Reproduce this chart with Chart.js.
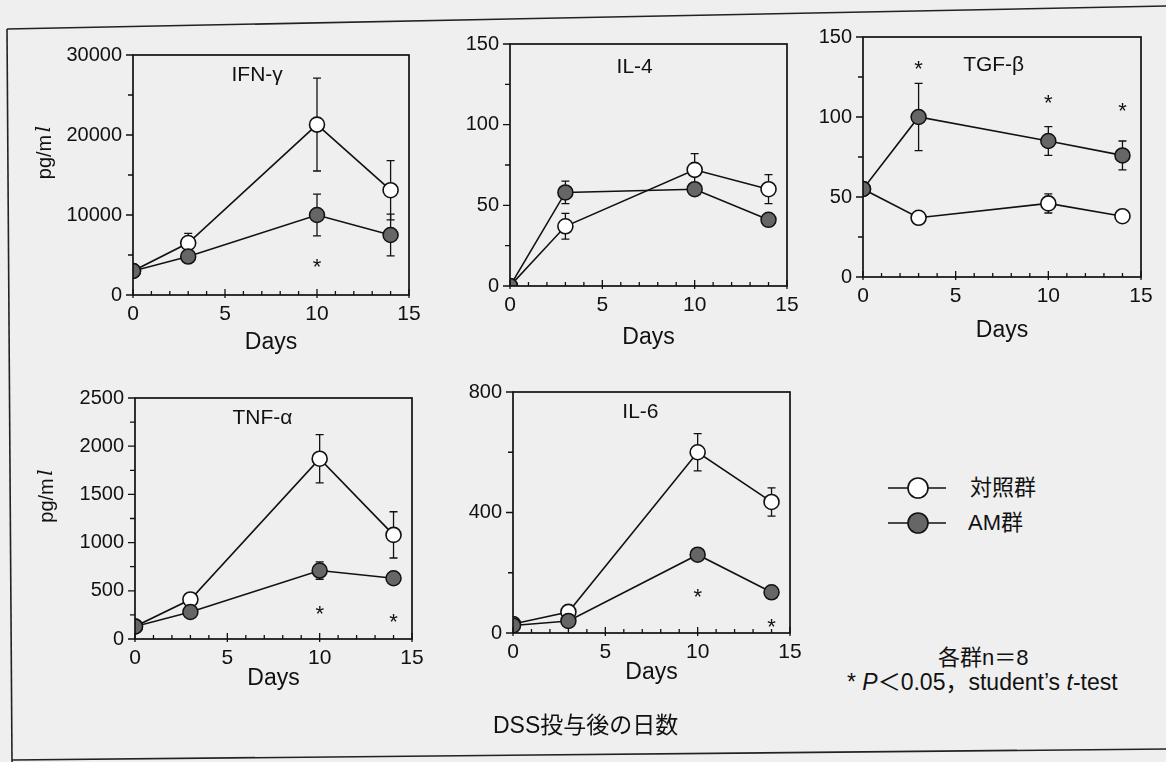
<!DOCTYPE html>
<html>
<head>
<meta charset="utf-8">
<script src="https://cdn.jsdelivr.net/npm/chart.js@4.4.1/dist/chart.umd.min.js"></script>
<style>
  body { margin: 0; background: #efefef; font-family: "Liberation Sans", Arial, sans-serif; color: #111; }
  #page { position: relative; width: 1166px; height: 762px; overflow: hidden; }
  .panel { position: absolute; }
  .txt { position: absolute; white-space: nowrap; font-size: 22px; line-height: 26px; }
  .jp { font-family: "Liberation Sans", "Noto Sans CJK JP", sans-serif; }
  #frame { position: absolute; left: 0; top: 0; }
</style>
</head>
<body>
<div id="page">
  <svg id="frame" width="1166" height="762">
    <line x1="7" y1="29" x2="1166" y2="6" stroke="#222" stroke-width="1.6"/>
    <line x1="7" y1="29" x2="12" y2="762" stroke="#222" stroke-width="1.6"/>
    <line x1="12" y1="760" x2="1166" y2="749" stroke="#222" stroke-width="1.6"/>
    <!-- legend symbols -->
    <line x1="888" y1="488" x2="946" y2="488" stroke="#111" stroke-width="1.5"/>
    <circle cx="918" cy="488" r="10" fill="#fff" stroke="#111" stroke-width="1.6"/>
    <line x1="888" y1="523" x2="946" y2="523" stroke="#111" stroke-width="1.5"/>
    <circle cx="918" cy="523" r="10" fill="#666" stroke="#111" stroke-width="1.6"/>
  </svg>

  <div class="panel" style="left:23px;top:32px"><canvas id="c1" width="406" height="333"></canvas></div>
  <div class="panel" style="left:400px;top:21px"><canvas id="c2" width="407" height="335"></canvas></div>
  <div class="panel" style="left:753px;top:14px"><canvas id="c3" width="408" height="333"></canvas></div>
  <div class="panel" style="left:25px;top:375px"><canvas id="c4" width="407" height="334"></canvas></div>
  <div class="panel" style="left:403px;top:369px"><canvas id="c5" width="407" height="334"></canvas></div>

  <div class="txt jp" style="left:970px;top:475px">対照群</div>
  <div class="txt jp" style="left:968px;top:510px">AM群</div>
  <div class="txt jp" style="left:938px;top:645px">各群n＝8</div>
  <div class="txt jp" style="left:847px;top:669px;font-size:23px">* <i>P</i>＜0.05，student’s <i>t</i>-test</div>
  <div class="txt jp" style="left:493px;top:712px;font-size:23px">DSS投与後の日数</div>
</div>

<script>
// Days on the x axis
const days = [0, 3, 10, 14];

// IFN-γ
const ifnControl = [3000, 6500, 21300, 13100];
const ifnControlErr = [0, 1200, 5800, 3700];
const ifnAM = [3000, 4800, 10000, 7500];
const ifnAMErr = [0, 0, 2600, 2600];
const ifnStars = [[10, 4100]];

// IL-4
const il4Control = [0, 37, 72, 60];
const il4ControlErr = [0, 8, 10, 9];
const il4AM = [0, 58, 60, 41];
const il4AMErr = [0, 7, 3, 0];
const il4Stars = [];

// TGF-β
const tgfControl = [55, 37, 46, 38];
const tgfControlErr = [0, 3, 6, 0];
const tgfAM = [55, 100, 85, 76];
const tgfAMErr = [0, 21, 9, 9];
const tgfStars = [[3, 133], [10, 112], [14, 107]];

// TNF-α
const tnfControl = [130, 410, 1870, 1080];
const tnfControlErr = [0, 0, 250, 240];
const tnfAM = [130, 280, 710, 630];
const tnfAMErr = [0, 0, 90, 0];
const tnfStars = [[10, 315], [14, 228]];

// IL-6
const il6Control = [30, 70, 600, 435];
const il6ControlErr = [0, 0, 62, 47];
const il6AM = [25, 40, 260, 135];
const il6AMErr = [0, 0, 0, 0];
const il6Stars = [[10, 135], [14, 37]];

// y axis: max, minor step, labelled step
const ifnAxis = [30000, 5000, 10000];
const il4Axis = [150, 25, 50];
const tgfAxis = [150, 25, 50];
const tnfAxis = [2500, 250, 500];
const il6Axis = [800, 200, 400];

const FONT = '"Liberation Sans", Arial, sans-serif';
const INK = '#111';

// box, ticks, error bars, stars and panel names
const decoPlugin = {
  id: 'deco',
  beforeDatasetsDraw(chart) {
    const ctx = chart.ctx;
    const ys = chart.scales.y;
    ctx.save();
    ctx.strokeStyle = INK;
    ctx.lineWidth = 1.3;
    chart.data.datasets.forEach((ds, i) => {
      const meta = chart.getDatasetMeta(i);
      ds.errors.forEach((e, j) => {
        if (!e) return;
        const v = ds.data[j].y;
        const x = meta.data[j].x;
        const y1 = ys.getPixelForValue(v + e);
        const y2 = ys.getPixelForValue(Math.max(v - e, 0));
        ctx.beginPath();
        ctx.moveTo(x, y1); ctx.lineTo(x, y2);
        ctx.moveTo(x - 4, y1); ctx.lineTo(x + 4, y1);
        ctx.moveTo(x - 4, y2); ctx.lineTo(x + 4, y2);
        ctx.stroke();
      });
    });
    ctx.restore();
  },
  afterDraw(chart, args, opts) {
    const ctx = chart.ctx;
    const a = chart.chartArea;
    const xs = chart.scales.x, ys = chart.scales.y;
    ctx.save();
    ctx.strokeStyle = INK;
    ctx.fillStyle = INK;
    ctx.lineWidth = 1.7;
    ctx.strokeRect(a.left, a.top, a.right - a.left, a.bottom - a.top);

    // x ticks point inward, y ticks outward
    ctx.lineWidth = 1.3;
    ctx.beginPath();
    xs.ticks.forEach(t => {
      const x = xs.getPixelForValue(t.value);
      const len = t.value % 5 === 0 ? 6 : 4;
      ctx.moveTo(x, a.bottom + (t.value % 5 === 0 ? 3 : 0));
      ctx.lineTo(x, a.bottom - len);
    });
    ys.ticks.forEach(t => {
      const y = ys.getPixelForValue(t.value);
      const len = t.value % opts.labelStep === 0 ? 7 : 5;
      ctx.moveTo(a.left, y);
      ctx.lineTo(a.left - len, y);
    });
    ctx.stroke();

    ctx.textAlign = 'center';
    ctx.textBaseline = 'middle';
    ctx.font = '21px ' + FONT;
    ctx.fillText(opts.name, a.left + opts.nameX * (a.right - a.left), a.top + opts.nameY);

    ctx.font = '22px ' + FONT;
    opts.stars.forEach(s => {
      ctx.fillText('*', xs.getPixelForValue(s[0]), ys.getPixelForValue(s[1]) + 6);
    });

    if (opts.ylabel) {
      ctx.translate(22, (a.top + a.bottom) / 2 - 22);
      ctx.rotate(-Math.PI / 2);
      ctx.font = '20px ' + FONT;
      ctx.fillText('pg/m', -4, 0);
      ctx.font = 'italic 20px "DejaVu Serif", serif';
      ctx.fillText('l', 24, 0);
    }
    ctx.restore();
  }
};

function points(vals) {
  return vals.map((v, i) => ({ x: days[i], y: v }));
}

function makePanel(id, control, controlErr, am, amErr, axis, stars, deco) {
  new Chart(document.getElementById(id), {
    type: 'line',
    data: {
      datasets: [{
        label: 'AM群',
        data: points(am),
        errors: amErr,
        borderColor: INK,
        borderWidth: 1.6,
        pointRadius: 7.5,
        pointBackgroundColor: '#666',
        pointBorderColor: INK,
        pointBorderWidth: 1.5
      }, {
        label: '対照群',
        data: points(control),
        errors: controlErr,
        borderColor: INK,
        borderWidth: 1.6,
        pointRadius: 7.5,
        pointBackgroundColor: '#ffffff',
        pointBorderColor: INK,
        pointBorderWidth: 1.6
      }]
    },
    options: {
      responsive: false,
      animation: false,
      layout: { padding: { top: 20, right: 20, left: 0, bottom: 0 } },
      plugins: {
        legend: { display: false },
        tooltip: { enabled: false },
        deco: Object.assign({ stars: stars, labelStep: axis[2] }, deco)
      },
      scales: {
        x: {
          type: 'linear', min: 0, max: 15,
          grid: { display: false, drawTicks: false },
          border: { display: false },
          ticks: {
            stepSize: 1, autoSkip: false, maxRotation: 0, padding: 7,
            color: INK, font: { family: FONT, size: 21 },
            callback: v => (v % 5 === 0 ? v : '')
          },
          title: { display: true, text: 'Days', color: INK, font: { family: FONT, size: 23 }, padding: { bottom: deco.daysPad } },
          afterFit: s => { s.height = 70; }
        },
        y: {
          min: 0, max: axis[0],
          grid: { display: false, drawTicks: false },
          border: { display: false },
          ticks: {
            stepSize: axis[1], autoSkip: false, padding: 11,
            color: INK, font: { family: FONT, size: 20 },
            callback: v => (v % axis[2] === 0 ? v : '')
          },
          afterFit: s => { s.width = 110; }
        }
      }
    },
    plugins: [decoPlugin]
  });
}

makePanel('c1', ifnControl, ifnControlErr, ifnAM, ifnAMErr, ifnAxis, ifnStars,
  { name: 'IFN-γ', nameX: 0.45, nameY: 20, ylabel: true, daysPad: 9 });
makePanel('c2', il4Control, il4ControlErr, il4AM, il4AMErr, il4Axis, il4Stars,
  { name: 'IL-4', nameX: 0.45, nameY: 23, ylabel: false, daysPad: 5 });
makePanel('c3', tgfControl, tgfControlErr, tgfAM, tgfAMErr, tgfAxis, tgfStars,
  { name: 'TGF-β', nameX: 0.47, nameY: 28, ylabel: false, daysPad: 3 });
makePanel('c4', tnfControl, tnfControlErr, tnfAM, tnfAMErr, tnfAxis, tnfStars,
  { name: 'TNF-α', nameX: 0.46, nameY: 20, ylabel: true, daysPad: 17 });
makePanel('c5', il6Control, il6ControlErr, il6AM, il6AMErr, il6Axis, il6Stars,
  { name: 'IL-6', nameX: 0.46, nameY: 20, ylabel: false, daysPad: 17 });
</script>
</body>
</html>
